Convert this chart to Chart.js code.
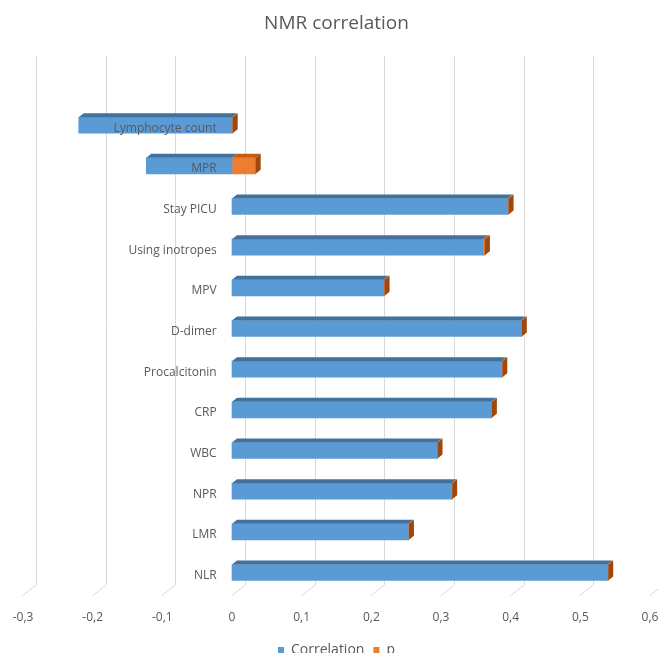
<!DOCTYPE html>
<html>
<head>
<meta charset="utf-8">
<script src="https://cdn.jsdelivr.net/npm/chart.js@4.4.1/dist/chart.umd.min.js"></script>
<style>
  html, body { margin: 0; padding: 0; background: #fff; overflow: hidden; }
  #wrap { width: 658px; height: 653px; overflow: hidden; }
</style>
</head>
<body>
<div id="wrap"><canvas id="nmrChart" width="658" height="667"></canvas></div>
<script>
const categories = ['Lymphocyte count', 'MPR', 'Stay PICU', 'Using inotropes', 'MPV', 'D-dimer',
                    'Procalcitonin', 'CRP', 'WBC', 'NPR', 'LMR', 'NLR'];
const correlation = [-0.22, -0.123, 0.396, 0.36, 0.218, 0.415, 0.387, 0.372, 0.294, 0.315, 0.253, 0.539];
const pValues = [0.001, 0.034, 0.001, 0.003, 0.001, 0.001, 0.001, 0.001, 0.001, 0.001, 0.001, 0.001];
const xTickLabels = ['-0,3', '-0,2', '-0,1', '0', '0,1', '0,2', '0,3', '0,4', '0,5', '0,6'];

const textColor = '#595959';
const fontFamily = "'Open Sans', sans-serif";
const depth = { dx: 5, dy: 4 };
// category labels sit just left of the zero line (excel "axis crosses at 0")
const labelAnchor = -0.022;

// back wall gridlines with the little floor diagonals, like excel's 3d bars
const wallGrid = {
    id: 'wallGrid',
    beforeDatasetsDraw(chart) {
        const { ctx, chartArea, scales: { x } } = chart;
        ctx.save();
        ctx.strokeStyle = '#d9d9d9';
        ctx.lineWidth = 1;
        x.ticks.forEach(t => {
            const px = Math.round(x.getPixelForValue(t.value)) + 0.5;
            ctx.beginPath();
            ctx.moveTo(px + 13, chartArea.top - 49);
            ctx.lineTo(px + 13, chartArea.bottom - 8);
            ctx.lineTo(px - 1, chartArea.bottom + 3);
            ctx.stroke();
        });
        ctx.restore();
    }
};

// top faces for every segment, side face only on the outer end of each stack
const barFaces = {
    id: 'barFaces',
    afterDatasetsDraw(chart) {
        const { ctx } = chart;
        const metas = chart.getSortedVisibleDatasetMetas();
        ctx.save();
        chart.data.labels.forEach((_, i) => {
            let edge = null;
            metas.forEach(meta => {
                const bar = meta.data[i];
                const { x, y, base, height } = bar.getProps(['x', 'y', 'base', 'height'], true);
                const left = Math.min(x, base), right = Math.max(x, base);
                const top = y - height / 2, bottom = y + height / 2;
                const ds = chart.data.datasets[meta.index];
                ctx.fillStyle = ds.topColor;
                ctx.beginPath();
                ctx.moveTo(left, top);
                ctx.lineTo(left + depth.dx, top - depth.dy);
                ctx.lineTo(right + depth.dx, top - depth.dy);
                ctx.lineTo(right, top);
                ctx.closePath();
                ctx.fill();
                if (!edge || right >= edge.right) edge = { right, top, bottom, color: ds.sideColor };
            });
            if (edge) {
                ctx.fillStyle = edge.color;
                ctx.beginPath();
                ctx.moveTo(edge.right, edge.top);
                ctx.lineTo(edge.right + depth.dx, edge.top - depth.dy);
                ctx.lineTo(edge.right + depth.dx, edge.bottom - depth.dy);
                ctx.lineTo(edge.right, edge.bottom);
                ctx.closePath();
                ctx.fill();
            }
        });
        ctx.restore();
    }
};

new Chart(document.getElementById('nmrChart'), {
    type: 'bar',
    data: {
        labels: categories,
        datasets: [
            { label: 'Correlation', data: correlation, backgroundColor: '#5b9bd5',
              topColor: '#41719c', sideColor: '#2e5f8c', barThickness: 16 },
            { label: 'p', data: pValues, backgroundColor: '#ed7d31',
              topColor: '#c55a11', sideColor: '#9e480e', barThickness: 16 }
        ]
    },
    options: {
        indexAxis: 'y',
        responsive: false,
        animation: false,
        layout: { padding: { left: 23, right: 8, top: 0, bottom: 0 } },
        scales: {
            x: {
                stacked: true,
                min: -0.3,
                max: 0.6,
                grid: { display: false },
                border: { display: false },
                afterFit: scale => { scale.paddingLeft = 0; scale.paddingRight = 0; },
                ticks: {
                    stepSize: 0.1,
                    padding: 7,
                    color: textColor,
                    font: { family: fontFamily, size: 12, lineHeight: 1.6 },
                    callback: (v, i) => xTickLabels[i]
                }
            },
            y: {
                stacked: true,
                position: { x: labelAnchor },
                grid: { display: false },
                border: { display: false },
                afterFit: scale => { scale.width = 0; },
                ticks: {
                    z: 1,
                    color: textColor,
                    labelOffset: 3,
                    font: { family: fontFamily, size: 12 }
                }
            }
        },
        plugins: {
            title: {
                display: true,
                text: 'NMR correlation',
                color: textColor,
                font: { family: fontFamily, size: 19, weight: 'normal' },
                padding: { top: 12, bottom: 70 }
            },
            legend: {
                position: 'bottom',
                labels: {
                    boxWidth: 6,
                    boxHeight: 6,
                    padding: 9,
                    color: textColor,
                    font: { family: fontFamily, size: 14 }
                }
            },
            tooltip: { enabled: false }
        }
    },
    plugins: [wallGrid, barFaces]
});
</script>
</body>
</html>
